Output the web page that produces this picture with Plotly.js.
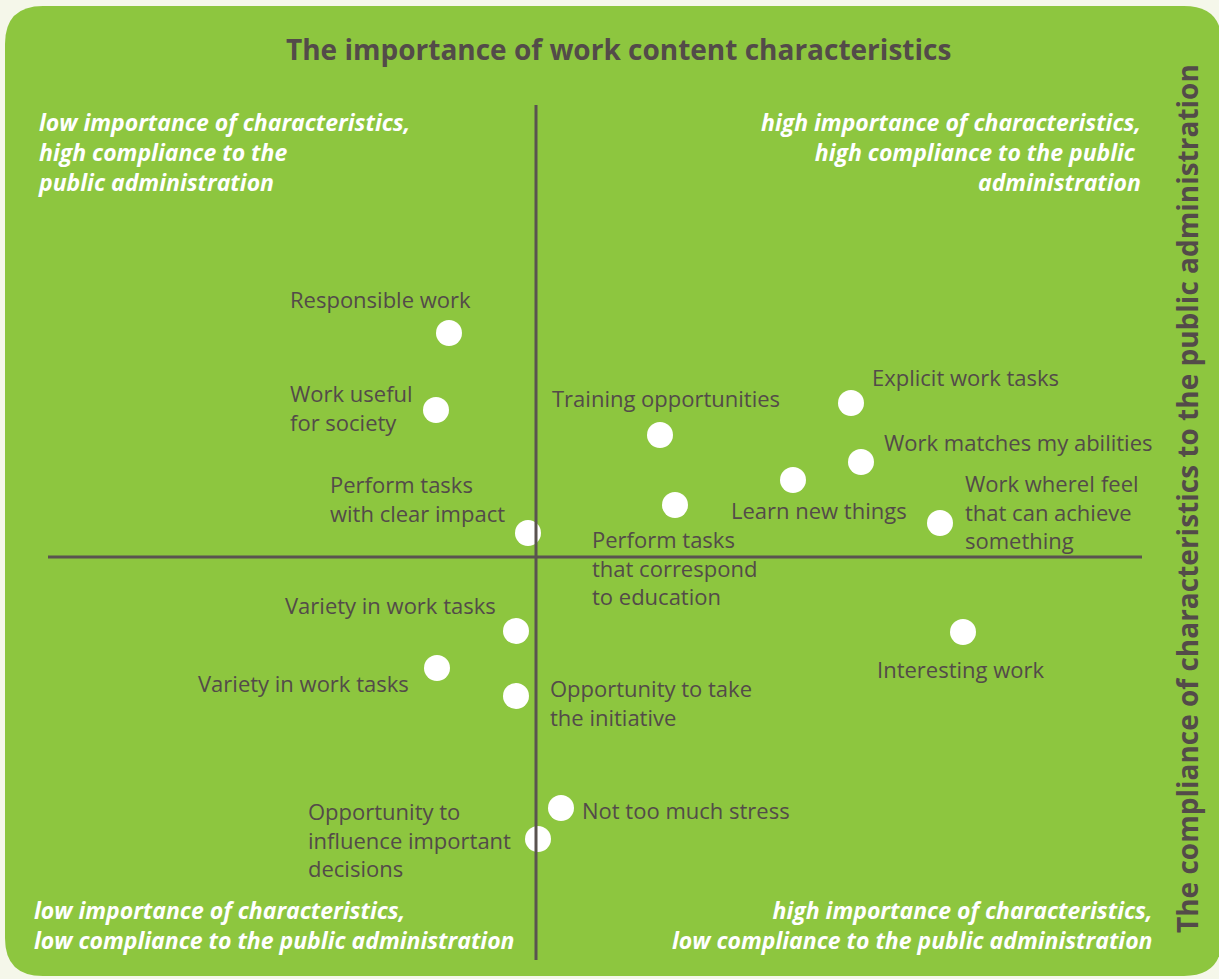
<!DOCTYPE html>
<html>
<head>
<meta charset="utf-8">
<script src="https://cdn.plot.ly/plotly-3.0.1.min.js"></script>
<style>
  html, body { margin: 0; padding: 0; background: #f5f7ea; }
  #chart { width: 1219px; height: 979px; }
</style>
</head>
<body>
<div id="chart"></div>
<script>
// characteristics: x = importance, y = compliance to the public administration
// (both centred on the quadrant crossing)
var characteristics = [
  'Responsible work',
  'Work useful<br>for society',
  'Training opportunities',
  'Explicit work tasks',
  'Work matches my abilities',
  'Learn new things',
  'Perform tasks<br>that correspond<br>to education',
  'Work whereI feel<br>that can achieve<br>something',
  'Perform tasks<br>with clear impact',
  'Variety in work tasks',
  'Variety in work tasks',
  'Opportunity to take<br>the initiative',
  'Interesting work',
  'Not too much stress',
  'Opportunity to<br>influence important<br>decisions'
];
var importance = [-0.87, -1.00, 1.24, 3.15, 3.25, 2.57, 1.39, 4.04, -0.08, -0.20, -0.99, -0.20, 4.27, 0.25, 0.02];
var compliance = [2.24, 1.47, 1.22, 1.54, 0.95, 0.77, 0.52, 0.34, 0.24, -0.74, -1.11, -1.39, -0.75, -2.51, -2.82];

var quadrantLabels = [
  'low importance of characteristics,<br>high compliance to the<br>public administration',
  'high importance of characteristics,<br>high compliance to the public <br>administration',
  'low importance of characteristics,<br>low compliance to the public administration',
  'high importance of characteristics,<br>low compliance to the public administration'
];
var chartTitle = 'The importance of work content characteristics';
var sideTitle = 'The compliance of characteristics to the public administration';

// ---- layout helpers ----
var W = 1219, H = 979;
var green = '#8dc63f';
var dark = '#534b49';
var textFont = 'Open Sans, Noto Sans, sans-serif';

// axes span the whole figure; 100 px per unit, crossing at (536, 557)
var xRange = [-5.36, (W - 536) / 100];
var yRange = [(557 - H) / 100, 5.57];
function px(x) { return x / W; }
function py(y) { return 1 - y / H; }

// label placement: [xanchor, xshift, yshift]
var labelPos = [
  ['left', -161, 34], ['left', -148, 3], ['left', -110, 37], ['left', 19, 26],
  ['left', 21, 20], ['left', -64, -30], ['left', -85, -62], ['left', 23, 12],
  ['left', -200, 35], ['left', -233, 26], ['left', -241, -15], ['left', 32, -6],
  ['left', -88, -37], ['left', 19, -2], ['left', -232, 0]
];

var annotations = characteristics.map(function (t, i) {
  return {
    x: importance[i], y: compliance[i], xref: 'x', yref: 'y',
    text: t, showarrow: false, align: 'left',
    xanchor: labelPos[i][0], yanchor: 'middle',
    xshift: labelPos[i][1], yshift: labelPos[i][2],
    font: {family: textFont, size: 22, color: dark}
  };
});

var qPos = [
  [36, 152, 'left'], [1143, 152, 'right'], [32, 925, 'left'], [1155, 925, 'right']
];
quadrantLabels.forEach(function (t, i) {
  annotations.push({
    x: px(qPos[i][0]), y: py(qPos[i][1]), xref: 'paper', yref: 'paper',
    text: '<b><i>' + t + '</i></b>', showarrow: false,
    xanchor: qPos[i][2], yanchor: 'middle', align: qPos[i][2],
    font: {family: textFont, size: 23, color: '#ffffff'}
  });
});

annotations.push({
  x: px(618), y: py(49), xref: 'paper', yref: 'paper',
  text: '<b>' + chartTitle + '</b>', showarrow: false,
  xanchor: 'center', yanchor: 'middle',
  font: {family: textFont, size: 28, color: dark}
});
annotations.push({
  x: px(1187), y: py(499), xref: 'paper', yref: 'paper',
  text: '<b>' + sideTitle + '</b>', showarrow: false, textangle: -90,
  xanchor: 'center', yanchor: 'middle',
  font: {family: textFont, size: 28, color: dark}
});

// rounded green panel
function roundedBox(x0, y0, x1, y1, r) {
  var X = function (v) { return px(v); }, Y = function (v) { return py(v); };
  return 'M ' + X(x0 + r) + ' ' + Y(y0) +
    ' L ' + X(x1 - r) + ' ' + Y(y0) +
    ' Q ' + X(x1) + ' ' + Y(y0) + ' ' + X(x1) + ' ' + Y(y0 + r) +
    ' L ' + X(x1) + ' ' + Y(y1 - r) +
    ' Q ' + X(x1) + ' ' + Y(y1) + ' ' + X(x1 - r) + ' ' + Y(y1) +
    ' L ' + X(x0 + r) + ' ' + Y(y1) +
    ' Q ' + X(x0) + ' ' + Y(y1) + ' ' + X(x0) + ' ' + Y(y1 - r) +
    ' L ' + X(x0) + ' ' + Y(y0 + r) +
    ' Q ' + X(x0) + ' ' + Y(y0) + ' ' + X(x0 + r) + ' ' + Y(y0) + ' Z';
}

var shapes = [
  {type: 'path', xref: 'paper', yref: 'paper', path: roundedBox(5, 6, 1222, 976, 38),
   fillcolor: green, line: {width: 0}, layer: 'below'},
  {type: 'line', xref: 'x', yref: 'y', x0: 0, x1: 0, y0: 4.52, y1: -4.03,
   line: {color: '#5a5350', width: 3}},
  {type: 'line', xref: 'x', yref: 'y', x0: -4.88, x1: 6.06, y0: 0, y1: 0,
   line: {color: '#5a5350', width: 3}}
];

var trace = {
  x: importance,
  y: compliance,
  type: 'scatter',
  mode: 'markers',
  marker: {color: '#ffffff', size: 26, line: {width: 0}},
  hoverinfo: 'skip'
};

var layout = {
  width: W, height: H,
  margin: {l: 0, r: 0, t: 0, b: 0},
  paper_bgcolor: '#f5f7ea',
  plot_bgcolor: 'rgba(0,0,0,0)',
  showlegend: false,
  xaxis: {range: xRange, visible: false, fixedrange: true},
  yaxis: {range: yRange, visible: false, fixedrange: true},
  shapes: shapes,
  annotations: annotations
};

Plotly.newPlot('chart', [trace], layout, {displayModeBar: false, staticPlot: true});
</script>
</body>
</html>
